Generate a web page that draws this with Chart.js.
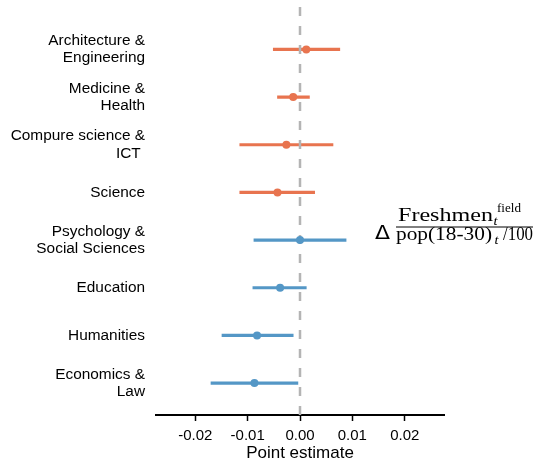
<!DOCTYPE html>
<html>
<head>
<meta charset="utf-8">
<script src="https://cdn.jsdelivr.net/npm/chart.js@4.4.1/dist/chart.umd.min.js"></script>
<style>
  html, body { margin: 0; padding: 0; background: #fff; }
  #wrap { width: 537px; height: 462px; }
</style>
</head>
<body>
<div id="wrap"><canvas id="forestChart"></canvas></div>
<script>
// fields, top to bottom
const fields = [
  ["Architecture &", "Engineering"],
  ["Medicine &", "Health"],
  ["Compure science &", "ICT "],
  ["Science"],
  ["Psychology &", "Social Sciences"],
  ["Education"],
  ["Humanities"],
  ["Economics &", "Law"]
];
const estimates = [0.0012, -0.0013, -0.0026, -0.0043, 0.0000, -0.0038, -0.0082, -0.0087];
const lowerCI = [-0.0051, -0.0043, -0.0115, -0.0115, -0.0088, -0.0090, -0.0149, -0.0170];
const upperCI = [0.0076, 0.0018, 0.0063, 0.0028, 0.0088, 0.0012, -0.0013, -0.0004];
const groups = ["stem", "stem", "stem", "stem", "social", "social", "social", "social"];
const xTicks = [-0.02, -0.01, 0.00, 0.01, 0.02];

const groupColor = { stem: "#e8744f", social: "#5497c6" };
const rowColors = groups.map(g => groupColor[g]);
const sans = "'Liberation Sans', Arial, sans-serif";
const serif = "'Liberation Serif', 'DejaVu Serif', serif";

// dashed reference line at zero, drawn over the CI bars but under the dots
const zeroLine = {
  id: "zeroLine",
  afterDatasetDraw(chart, args) {
    if (args.index !== 0) return;
    const { ctx, chartArea, scales } = chart;
    const x = scales.x.getPixelForValue(0);
    ctx.save();
    ctx.strokeStyle = "#b4b4b4";
    ctx.lineWidth = 2.5;
    ctx.setLineDash([9, 10]);
    ctx.beginPath();
    ctx.moveTo(x, chartArea.top);
    ctx.lineTo(x, chartArea.bottom);
    ctx.stroke();
    ctx.restore();
  }
};

// draw a piece of text squeezed/stretched to a given width
function fitText(ctx, text, font, x, y, width) {
  ctx.font = font;
  const k = width / ctx.measureText(text).width;
  ctx.save();
  ctx.translate(x, y);
  ctx.scale(k, 1);
  ctx.fillText(text, 0, 0);
  ctx.restore();
}

// outcome label on the right: Δ Freshmen_t^field / (pop(18-30)_t / 100)
const outcomeLabel = {
  id: "outcomeLabel",
  afterDraw(chart) {
    const ctx = chart.ctx;
    ctx.save();
    ctx.fillStyle = "#000";
    ctx.textBaseline = "alphabetic";
    ctx.textAlign = "left";

    fitText(ctx, "\u0394", "20px 'DejaVu Sans', sans-serif", 375, 239, 15);

    // numerator
    fitText(ctx, "Freshmen", "18px " + serif, 398, 221, 95);
    fitText(ctx, "t", "italic 12.5px " + serif, 493.5, 225, 4);
    fitText(ctx, "field", "12.5px " + serif, 497, 211.5, 24);

    // fraction bar
    ctx.fillRect(396, 226.5, 137, 1);

    // denominator
    fitText(ctx, "pop(18-30)", "18px " + serif, 396, 239.5, 96);
    fitText(ctx, "t", "italic 12.5px " + serif, 494.5, 244, 4);
    fitText(ctx, "/100", "18px " + serif, 503, 239.5, 30);
    ctx.restore();
  }
};

new Chart(document.getElementById("forestChart"), {
  type: "scatter",
  data: {
    datasets: [
      {
        type: "bar",
        indexAxis: "y",
        data: lowerCI.map((lo, i) => ({ x: [lo, upperCI[i]], y: i })),
        backgroundColor: rowColors,
        borderWidth: 0,
        barThickness: 2.5,
        order: 2
      },
      {
        type: "scatter",
        data: estimates.map((e, i) => ({ x: e, y: i })),
        pointRadius: 4,
        pointBackgroundColor: rowColors,
        pointBorderWidth: 0,
        order: 1
      }
    ]
  },
  options: {
    responsive: true,
    maintainAspectRatio: false,
    animation: false,
    layout: { padding: { top: 7, right: 93, bottom: 0, left: 0 } },
    plugins: { legend: { display: false }, tooltip: { enabled: false } },
    scales: {
      x: {
        type: "linear",
        offset: false,
        min: -0.0275,
        max: 0.0275,
        afterBuildTicks: s => { s.ticks = xTicks.map(v => ({ value: v })); },
        ticks: {
          callback: v => v.toFixed(2),
          font: { family: sans, size: 15 },
          color: "#000",
          padding: 6,
          maxRotation: 0
        },
        grid: {
          offset: false,
          drawOnChartArea: false,
          drawTicks: true,
          tickLength: 6,
          tickWidth: 1.5,
          tickColor: "#000"
        },
        border: { display: true, color: "#000", width: 2 },
        title: {
          display: true,
          text: "Point estimate",
          font: { family: sans, size: 17, lineHeight: 1.0 },
          color: "#000",
          padding: { top: 0, bottom: 0 }
        },
        afterFit: s => { s.height = 47; s.paddingLeft = 0; s.paddingRight = 0; }
      },
      y: {
        type: "linear",
        offset: false,
        reverse: true,
        min: -0.89,
        max: 7.67,
        afterBuildTicks: s => { s.ticks = fields.map((f, i) => ({ value: i })); },
        ticks: {
          callback: v => fields[v],
          font: { family: sans, size: 15.4, lineHeight: 1.13 },
          color: "#000",
          padding: 11
        },
        grid: { display: false, drawTicks: false },
        border: { display: false },
        afterFit: s => { s.width = 156; s.paddingTop = 0; s.paddingBottom = 0; }
      }
    }
  },
  plugins: [zeroLine, outcomeLabel]
});
</script>
</body>
</html>
